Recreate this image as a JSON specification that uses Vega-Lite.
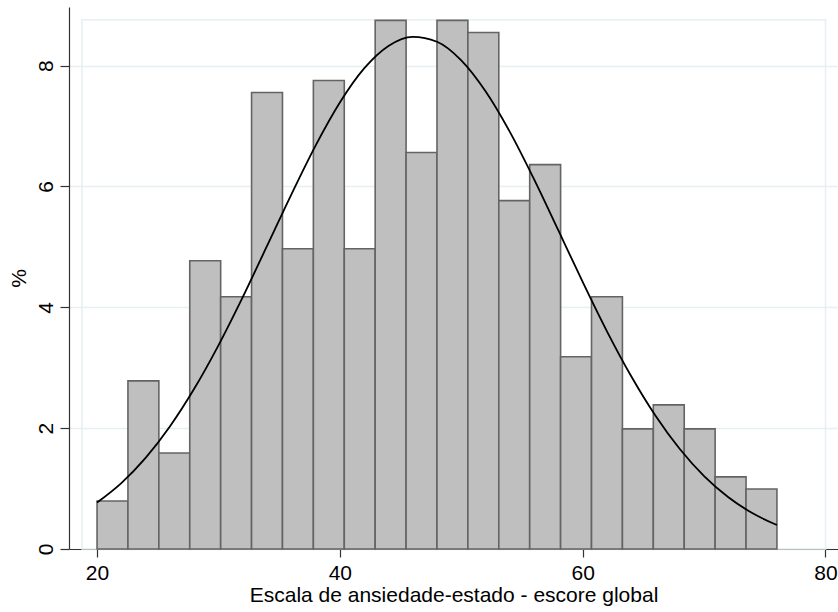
{
  "$schema": "https://vega.github.io/schema/vega-lite/v6.json",
  "width": 769,
  "height": 542,
  "autosize": "none",
  "padding": {"left": 69, "top": 7, "right": 0, "bottom": 63},
  "background": "white",
  "config": {
    "view": {"stroke": null},
    "font": "Liberation Sans",
    "axis": {"labelFont": "Liberation Sans", "titleFont": "Liberation Sans", "labelColor": "black", "titleColor": "black", "titleFontWeight": "normal"}
  },
  "datasets": {
    "bins": [
      {"bin_start": 20.0, "bin_end": 22.545, "pct": 0.795},
      {"bin_start": 22.545, "bin_end": 25.091, "pct": 2.783},
      {"bin_start": 25.091, "bin_end": 27.636, "pct": 1.590},
      {"bin_start": 27.636, "bin_end": 30.182, "pct": 4.771},
      {"bin_start": 30.182, "bin_end": 32.727, "pct": 4.175},
      {"bin_start": 32.727, "bin_end": 35.273, "pct": 7.555},
      {"bin_start": 35.273, "bin_end": 37.818, "pct": 4.970},
      {"bin_start": 37.818, "bin_end": 40.364, "pct": 7.753},
      {"bin_start": 40.364, "bin_end": 42.909, "pct": 4.970},
      {"bin_start": 42.909, "bin_end": 45.455, "pct": 8.748},
      {"bin_start": 45.455, "bin_end": 48.0, "pct": 6.561},
      {"bin_start": 48.0, "bin_end": 50.545, "pct": 8.748},
      {"bin_start": 50.545, "bin_end": 53.091, "pct": 8.549},
      {"bin_start": 53.091, "bin_end": 55.636, "pct": 5.765},
      {"bin_start": 55.636, "bin_end": 58.182, "pct": 6.362},
      {"bin_start": 58.182, "bin_end": 60.727, "pct": 3.181},
      {"bin_start": 60.727, "bin_end": 63.273, "pct": 4.175},
      {"bin_start": 63.273, "bin_end": 65.818, "pct": 1.988},
      {"bin_start": 65.818, "bin_end": 68.364, "pct": 2.386},
      {"bin_start": 68.364, "bin_end": 70.909, "pct": 1.988},
      {"bin_start": 70.909, "bin_end": 73.455, "pct": 1.193},
      {"bin_start": 73.455, "bin_end": 76.0, "pct": 0.994}
    ],
    "curve": [
      {"x": 20, "y": 0.768}, {"x": 22, "y": 1.091}, {"x": 24, "y": 1.508},
      {"x": 26, "y": 2.028}, {"x": 28, "y": 2.651}, {"x": 30, "y": 3.371},
      {"x": 32, "y": 4.169}, {"x": 34, "y": 5.015}, {"x": 36, "y": 5.866},
      {"x": 38, "y": 6.676}, {"x": 40, "y": 7.389}, {"x": 42, "y": 7.953},
      {"x": 44, "y": 8.326}, {"x": 46, "y": 8.477}, {"x": 48, "y": 8.395},
      {"x": 50, "y": 8.087}, {"x": 52, "y": 7.575}, {"x": 54, "y": 6.903},
      {"x": 56, "y": 6.117}, {"x": 58, "y": 5.272}, {"x": 60, "y": 4.420},
      {"x": 62, "y": 3.603}, {"x": 64, "y": 2.858}, {"x": 66, "y": 2.204},
      {"x": 68, "y": 1.654}, {"x": 70, "y": 1.206}, {"x": 72, "y": 0.856},
      {"x": 74, "y": 0.591}, {"x": 76, "y": 0.397}
    ],
    "region": [
      {"x1": 18.76, "x2": 80.0, "y1": 0, "y2": 8.76}
    ]
  },
  "layer": [
    {
      "data": {"name": "region"},
      "mark": {"type": "rect", "fill": null, "stroke": "#E6EFF1", "strokeWidth": 1.5},
      "encoding": {
        "x": {"field": "x1", "type": "quantitative", "scale": {"domain": [17.69, 81.03], "nice": false, "zero": false},
          "axis": {"values": [20, 40, 60, 80], "format": "d", "grid": false, "title": "Escala de ansiedade-estado - escore global",
            "labelFontSize": 21, "titleFontSize": 21, "tickSize": 8, "tickColor": "#333333", "domainColor": "#333333",
            "domainWidth": 1.2, "tickWidth": 1.2, "labelPadding": 5, "titlePadding": 1, "labelFlush": false}},
        "x2": {"field": "x2"},
        "y": {"field": "y1", "type": "quantitative", "scale": {"domain": [0, 8.97], "nice": false},
          "axis": {"values": [0, 2, 4, 6, 8], "format": "d", "grid": true, "gridColor": "#E6EFF1", "gridWidth": 1.5, "title": "%",
            "labelFontSize": 21, "titleFontSize": 21, "labelAngle": -90, "labelAlign": "center", "labelBaseline": "alphabetic",
            "tickSize": 9, "tickColor": "#333333", "domainColor": "#333333", "domainWidth": 1.2, "tickWidth": 1.2,
            "labelPadding": 8, "titlePadding": 6, "titleAngle": -90, "labelFlush": false}},
        "y2": {"field": "y2"}
      }
    },
    {
      "data": {"name": "bins"},
      "mark": {"type": "rect", "fill": "#BFBFBF", "stroke": "#646464", "strokeWidth": 1.6},
      "encoding": {
        "x": {"field": "bin_start", "type": "quantitative"},
        "x2": {"field": "bin_end"},
        "y": {"field": "pct", "type": "quantitative"},
        "y2": {"datum": 0}
      }
    },
    {
      "data": {"name": "curve"},
      "mark": {"type": "line", "color": "black", "strokeWidth": 1.8, "interpolate": "monotone"},
      "encoding": {
        "x": {"field": "x", "type": "quantitative"},
        "y": {"field": "y", "type": "quantitative"}
      }
    }
  ]
}
